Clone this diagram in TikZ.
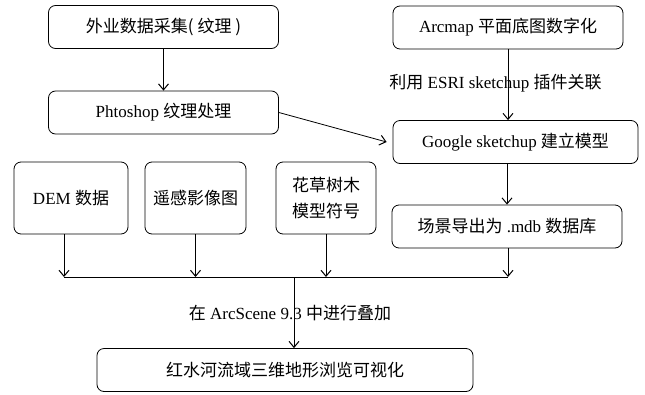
\documentclass[tikz,border=0pt]{standalone}
\usepackage{fontspec}
\setmainfont{Liberation Serif}
\newfontfamily\cjk{Noto Sans CJK SC}
\usetikzlibrary{arrows.meta}
\newcommand{\zh}[1]{{\cjk #1}}

\begin{document}
\begin{tikzpicture}[x=1pt,y=-1pt,
    box/.style={draw,line width=0.8pt,rounded corners=7pt,minimum height=43pt,
      inner sep=0pt,align=center,font=\rmfamily\fontsize{17}{26}\selectfont},
    note/.style={inner sep=1pt,font=\rmfamily\fontsize{17}{20}\selectfont},
    flow/.style={line width=0.8pt,-{Straight Barb[length=6pt,width=10pt,line width=1pt]}},
    bus/.style={line width=0.8pt}]

  \useasboundingbox (0,0) rectangle (645,394);

  % top row
  \node[box,minimum width=230pt] (field) at (163.5,27) {\zh{外业数据采集( 纹理 )}};
  \node[box,minimum width=230pt] (ps) at (163.5,112.5) {Phtoshop \zh{纹理处理}};
  \node[box,minimum width=230pt] (arcmap) at (508,27.5) {Arcmap \zh{平面底图数字化}};

  % right column
  \node[box,minimum width=245pt] (google) at (515.5,142) {Google sketchup \zh{建立模型}};
  \node[box,minimum width=230pt] (scene) at (507,226.5) {\zh{场景导出为} .mdb \zh{数据库}};

  % data sources
  \node[box,minimum width=114pt,minimum height=72pt] (dem) at (71,198) {DEM \zh{数据}};
  \node[box,minimum width=101pt,minimum height=72pt] (rs) at (195.5,198) {\zh{遥感影像图}};
  \node[box,minimum width=100pt,minimum height=72pt] (veg) at (326,198) {\zh{花草树木}\\\zh{模型符号}};

  % result
  \node[box,minimum width=376pt] (final) at (285,370) {\zh{红水河流域三维地形浏览可视化}};

  % bus line and join point
  \coordinate (busL) at (64,277);
  \coordinate (busR) at (508,277);
  \coordinate (join) at (294,277);

  % connectors
  \draw[flow] (field) -- (ps);
  \draw[flow] (ps.east) -- ([xshift=-6pt]google.west);
  \draw[flow] (arcmap.south) -- (arcmap.south |- google.north);
  \draw[flow] (scene.north |- google.south) -- (scene.north);
  \draw[bus] (busL) -- (busR);
  \draw[flow] (dem.south -| busL) -- (busL);
  \draw[flow] (rs.south) -- (rs.south |- busL);
  \draw[flow] (veg.south) -- (veg.south |- busL);
  \draw[flow] (scene.south -| busR) -- (busR);
  \draw[flow] (join) -- (join |- final.north);

  % labels on the connectors
  \node[note] (linktext) at (495.5,83) {\zh{利用} ESRI sketchup \zh{插件关联}};
  \node[note] (overlaytext) at (290,313) {\zh{在} ArcScene 9.3 \zh{中进行叠加}};

\end{tikzpicture}
\end{document}
